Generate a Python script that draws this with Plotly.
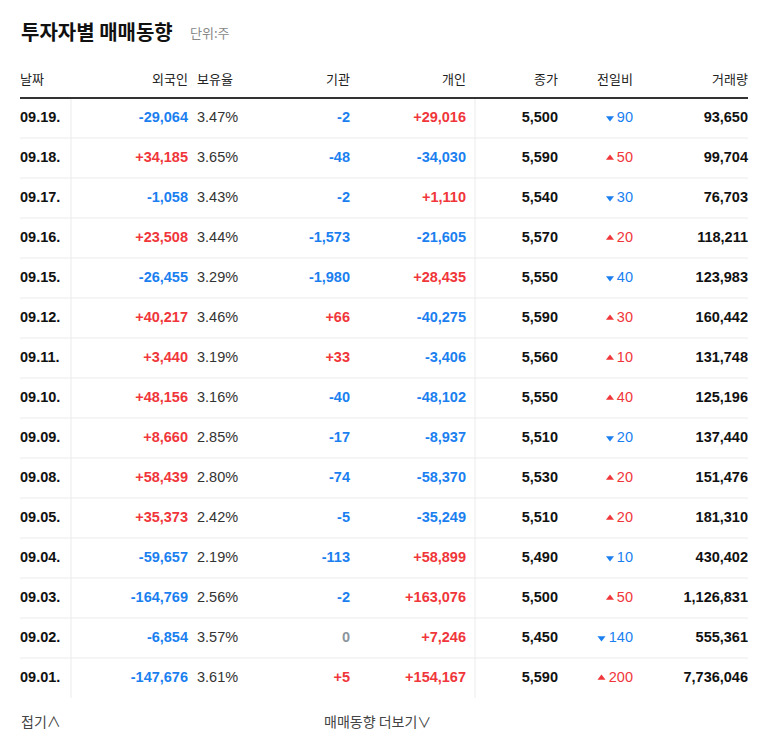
import plotly.graph_objects as go

dates = ["09.19.", "09.18.", "09.17.", "09.16.", "09.15.", "09.12.", "09.11.", "09.10.",
         "09.09.", "09.08.", "09.05.", "09.04.", "09.03.", "09.02.", "09.01."]
foreign = [-29064, 34185, -1058, 23508, -26455, 40217, 3440, 48156, 8660, 58439, 35373,
           -59657, -164769, -6854, -147676]
holding = [3.47, 3.65, 3.43, 3.44, 3.29, 3.46, 3.19, 3.16, 2.85, 2.80, 2.42, 2.19, 2.56, 3.57, 3.61]
institution = [-2, -48, -2, -1573, -1980, 66, 33, -40, -17, -74, -5, -113, -2, 0, 5]
individual = [29016, -34030, 1110, -21605, 28435, -40275, -3406, -48102, -8937, -58370,
              -35249, 58899, 163076, 7246, 154167]
close = [5500, 5590, 5540, 5570, 5550, 5590, 5560, 5550, 5510, 5530, 5510, 5490, 5500, 5450, 5590]
change = [-90, 50, -30, 20, -40, 30, 10, 40, -20, 20, 20, -10, 50, -140, 200]
volume = [93650, 99704, 76703, 118211, 123983, 160442, 131748, 125196, 137440, 151476,
          181310, 430402, 1126831, 555361, 7736046]
headers = ["날짜", "외국인", "보유율", "기관", "개인", "종가", "전일비", "거래량"]

BLUE, RED, GRAY, DARK = "#1b7ff0", "#f0363a", "#8c959e", "#111111"
FONT = "Liberation Sans, Noto Sans CJK KR"

def col(v):
    return BLUE if v < 0 else RED if v > 0 else GRAY

def signed(v):
    return f"<b>{v:+,}</b>" if v != 0 else "<b>0</b>"

ys = [118 + 40 * i for i in range(len(dates))]
fig = go.Figure()

def add(x, texts, colors, pos, size=14.5):
    fig.add_trace(go.Scatter(x=[x] * len(texts), y=ys, mode="text", text=texts,
                             textposition=pos, hoverinfo="skip",
                             textfont=dict(family=FONT, size=size, color=colors)))

add(20, [f"<b>{d}</b>" for d in dates], DARK, "middle right")
add(188, [signed(v) for v in foreign], [col(v) for v in foreign], "middle left")
add(197, [f"{v:.2f}%" for v in holding], "#333333", "middle right")
add(350, [signed(v) for v in institution], [col(v) for v in institution], "middle left")
add(466, [signed(v) for v in individual], [col(v) for v in individual], "middle left")
add(558, [f"<b>{v:,}</b>" for v in close], DARK, "middle left")
add(633, [f"{abs(v)}" for v in change], [col(v) for v in change], "middle left")
add(748, [f"<b>{v:,}</b>" for v in volume], DARK, "middle left")
# arrows before change numbers
fig.add_trace(go.Scatter(
    x=[633 - 8.5 * len(str(abs(v))) - 6 for v in change], y=ys, mode="markers",
    marker=dict(symbol=["triangle-up" if v > 0 else "triangle-down" for v in change],
                size=7, color=[col(v) for v in change]), hoverinfo="skip"))

# header
hx = [20, 188, 197, 350, 466, 558, 633, 748]
hpos = ["middle right", "middle left", "middle right", "middle left", "middle left",
        "middle left", "middle left", "middle left"]
for x, t, p in zip(hx, headers, hpos):
    fig.add_trace(go.Scatter(x=[x], y=[81], mode="text", text=[t], textposition=p,
                             hoverinfo="skip",
                             textfont=dict(family="Noto Sans CJK KR", size=13, color="#222")))

shapes = [dict(type="line", x0=20, x1=748, y0=98, y1=98, line=dict(color="#333", width=2))]
for y in ys[:-1]:
    shapes.append(dict(type="line", x0=20, x1=748, y0=y + 20, y1=y + 20,
                       line=dict(color="#ebebeb", width=1)))
for x in [71, 475]:
    shapes.append(dict(type="line", x0=x, x1=x, y0=99, y1=698, line=dict(color="#ebebeb", width=1)))

ann = [
    dict(x=19, y=31, text="<b>투자자별 매매동향</b>", xanchor="left", showarrow=False,
         font=dict(family="Noto Sans CJK KR", size=20, color="#111")),
    dict(x=188, y=32, text="단위:주", xanchor="left", showarrow=False,
         font=dict(family="Noto Sans CJK KR", size=13, color="#888")),
    dict(x=19, y=721, text="접기∧", xanchor="left", showarrow=False,
         font=dict(family="Noto Sans CJK KR", size=14, color="#444")),
    dict(x=322, y=721, text="매매동향 더보기∨", xanchor="left", showarrow=False,
         font=dict(family="Noto Sans CJK KR", size=14, color="#444")),
]

# page body adds an 8px offset, so shift the visible range accordingly
fig.update_layout(width=768, height=749, margin=dict(l=0, r=0, t=0, b=0),
                  plot_bgcolor="white", paper_bgcolor="white", showlegend=False,
                  shapes=shapes, annotations=ann,
                  xaxis=dict(range=[8, 776], visible=False, fixedrange=True),
                  yaxis=dict(range=[757, 8], visible=False, fixedrange=True))
fig.write_html("out.html")
